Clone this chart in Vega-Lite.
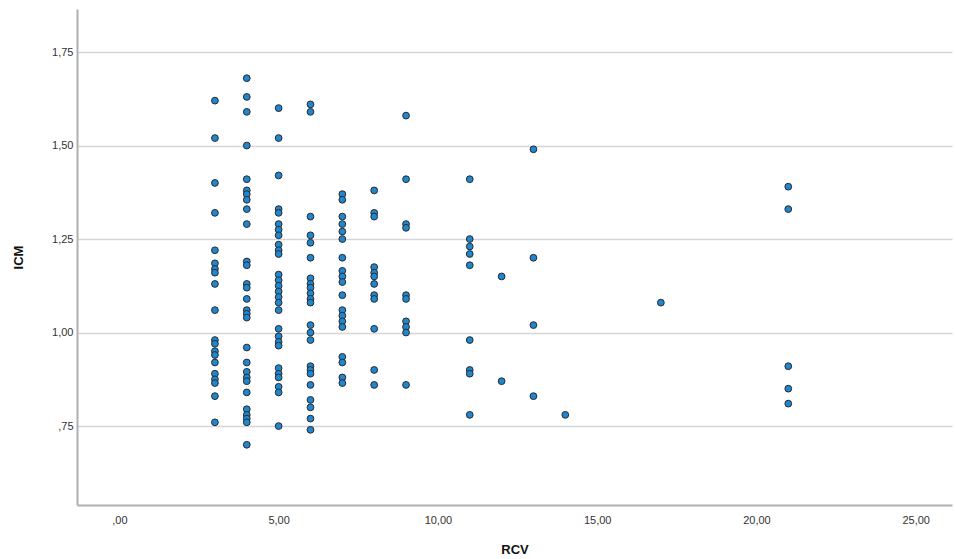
{
  "$schema": "https://vega.github.io/schema/vega-lite/v6.json",
  "width": 875,
  "height": 496,
  "autosize": {"type": "none"},
  "padding": {"left": 77, "top": 9, "right": 3, "bottom": 54},
  "background": "white",
  "config": {
    "view": {"stroke": null},
    "font": "Liberation Sans"
  },
  "data": {
    "values": [
      {"RCV": 3, "ICM": 1.62}, {"RCV": 3, "ICM": 1.52}, {"RCV": 3, "ICM": 1.40}, {"RCV": 3, "ICM": 1.32},
      {"RCV": 3, "ICM": 1.22}, {"RCV": 3, "ICM": 1.185}, {"RCV": 3, "ICM": 1.17}, {"RCV": 3, "ICM": 1.16},
      {"RCV": 3, "ICM": 1.13}, {"RCV": 3, "ICM": 1.06}, {"RCV": 3, "ICM": 0.98}, {"RCV": 3, "ICM": 0.97},
      {"RCV": 3, "ICM": 0.95}, {"RCV": 3, "ICM": 0.94}, {"RCV": 3, "ICM": 0.92}, {"RCV": 3, "ICM": 0.89},
      {"RCV": 3, "ICM": 0.875}, {"RCV": 3, "ICM": 0.865}, {"RCV": 3, "ICM": 0.83}, {"RCV": 3, "ICM": 0.76},
      {"RCV": 4, "ICM": 1.68}, {"RCV": 4, "ICM": 1.63}, {"RCV": 4, "ICM": 1.59}, {"RCV": 4, "ICM": 1.50},
      {"RCV": 4, "ICM": 1.41}, {"RCV": 4, "ICM": 1.38}, {"RCV": 4, "ICM": 1.37}, {"RCV": 4, "ICM": 1.355},
      {"RCV": 4, "ICM": 1.33}, {"RCV": 4, "ICM": 1.29}, {"RCV": 4, "ICM": 1.19}, {"RCV": 4, "ICM": 1.18},
      {"RCV": 4, "ICM": 1.13}, {"RCV": 4, "ICM": 1.12}, {"RCV": 4, "ICM": 1.09}, {"RCV": 4, "ICM": 1.06},
      {"RCV": 4, "ICM": 1.05}, {"RCV": 4, "ICM": 1.04}, {"RCV": 4, "ICM": 0.96}, {"RCV": 4, "ICM": 0.92},
      {"RCV": 4, "ICM": 0.895}, {"RCV": 4, "ICM": 0.88}, {"RCV": 4, "ICM": 0.87}, {"RCV": 4, "ICM": 0.84},
      {"RCV": 4, "ICM": 0.795}, {"RCV": 4, "ICM": 0.78}, {"RCV": 4, "ICM": 0.77}, {"RCV": 4, "ICM": 0.76},
      {"RCV": 4, "ICM": 0.70},
      {"RCV": 5, "ICM": 1.60}, {"RCV": 5, "ICM": 1.52}, {"RCV": 5, "ICM": 1.42}, {"RCV": 5, "ICM": 1.33},
      {"RCV": 5, "ICM": 1.32}, {"RCV": 5, "ICM": 1.29}, {"RCV": 5, "ICM": 1.275}, {"RCV": 5, "ICM": 1.26},
      {"RCV": 5, "ICM": 1.235}, {"RCV": 5, "ICM": 1.22}, {"RCV": 5, "ICM": 1.21}, {"RCV": 5, "ICM": 1.155},
      {"RCV": 5, "ICM": 1.14}, {"RCV": 5, "ICM": 1.125}, {"RCV": 5, "ICM": 1.11}, {"RCV": 5, "ICM": 1.095},
      {"RCV": 5, "ICM": 1.08}, {"RCV": 5, "ICM": 1.06}, {"RCV": 5, "ICM": 1.01}, {"RCV": 5, "ICM": 0.99},
      {"RCV": 5, "ICM": 0.975}, {"RCV": 5, "ICM": 0.965}, {"RCV": 5, "ICM": 0.905}, {"RCV": 5, "ICM": 0.89},
      {"RCV": 5, "ICM": 0.88}, {"RCV": 5, "ICM": 0.855}, {"RCV": 5, "ICM": 0.84}, {"RCV": 5, "ICM": 0.75},
      {"RCV": 6, "ICM": 1.61}, {"RCV": 6, "ICM": 1.59}, {"RCV": 6, "ICM": 1.31}, {"RCV": 6, "ICM": 1.26},
      {"RCV": 6, "ICM": 1.24}, {"RCV": 6, "ICM": 1.20}, {"RCV": 6, "ICM": 1.145}, {"RCV": 6, "ICM": 1.13},
      {"RCV": 6, "ICM": 1.12}, {"RCV": 6, "ICM": 1.105}, {"RCV": 6, "ICM": 1.09}, {"RCV": 6, "ICM": 1.08},
      {"RCV": 6, "ICM": 1.02}, {"RCV": 6, "ICM": 1.00}, {"RCV": 6, "ICM": 0.98}, {"RCV": 6, "ICM": 0.91},
      {"RCV": 6, "ICM": 0.90}, {"RCV": 6, "ICM": 0.89}, {"RCV": 6, "ICM": 0.86}, {"RCV": 6, "ICM": 0.82},
      {"RCV": 6, "ICM": 0.80}, {"RCV": 6, "ICM": 0.77}, {"RCV": 6, "ICM": 0.74},
      {"RCV": 7, "ICM": 1.37}, {"RCV": 7, "ICM": 1.355}, {"RCV": 7, "ICM": 1.31}, {"RCV": 7, "ICM": 1.29},
      {"RCV": 7, "ICM": 1.27}, {"RCV": 7, "ICM": 1.25}, {"RCV": 7, "ICM": 1.20}, {"RCV": 7, "ICM": 1.165},
      {"RCV": 7, "ICM": 1.15}, {"RCV": 7, "ICM": 1.135}, {"RCV": 7, "ICM": 1.10}, {"RCV": 7, "ICM": 1.06},
      {"RCV": 7, "ICM": 1.045}, {"RCV": 7, "ICM": 1.03}, {"RCV": 7, "ICM": 1.015}, {"RCV": 7, "ICM": 0.935},
      {"RCV": 7, "ICM": 0.92}, {"RCV": 7, "ICM": 0.88}, {"RCV": 7, "ICM": 0.865},
      {"RCV": 8, "ICM": 1.38}, {"RCV": 8, "ICM": 1.32}, {"RCV": 8, "ICM": 1.31}, {"RCV": 8, "ICM": 1.175},
      {"RCV": 8, "ICM": 1.16}, {"RCV": 8, "ICM": 1.15}, {"RCV": 8, "ICM": 1.13}, {"RCV": 8, "ICM": 1.10},
      {"RCV": 8, "ICM": 1.09}, {"RCV": 8, "ICM": 1.01}, {"RCV": 8, "ICM": 0.90}, {"RCV": 8, "ICM": 0.86},
      {"RCV": 9, "ICM": 1.58}, {"RCV": 9, "ICM": 1.41}, {"RCV": 9, "ICM": 1.29}, {"RCV": 9, "ICM": 1.28},
      {"RCV": 9, "ICM": 1.10}, {"RCV": 9, "ICM": 1.09}, {"RCV": 9, "ICM": 1.03}, {"RCV": 9, "ICM": 1.015},
      {"RCV": 9, "ICM": 1.00}, {"RCV": 9, "ICM": 0.86},
      {"RCV": 11, "ICM": 1.41}, {"RCV": 11, "ICM": 1.25}, {"RCV": 11, "ICM": 1.23}, {"RCV": 11, "ICM": 1.21},
      {"RCV": 11, "ICM": 1.18}, {"RCV": 11, "ICM": 0.98}, {"RCV": 11, "ICM": 0.90}, {"RCV": 11, "ICM": 0.89},
      {"RCV": 11, "ICM": 0.78},
      {"RCV": 12, "ICM": 1.15}, {"RCV": 12, "ICM": 0.87},
      {"RCV": 13, "ICM": 1.49}, {"RCV": 13, "ICM": 1.20}, {"RCV": 13, "ICM": 1.02}, {"RCV": 13, "ICM": 0.83},
      {"RCV": 14, "ICM": 0.78},
      {"RCV": 17, "ICM": 1.08},
      {"RCV": 21, "ICM": 1.39}, {"RCV": 21, "ICM": 1.33}, {"RCV": 21, "ICM": 0.91}, {"RCV": 21, "ICM": 0.85},
      {"RCV": 21, "ICM": 0.81}
    ]
  },
  "mark": {
    "type": "point",
    "shape": "circle",
    "filled": true,
    "size": 46,
    "fill": "#1f86d0",
    "stroke": "#2a2a2a",
    "strokeWidth": 1,
    "opacity": 1
  },
  "encoding": {
    "x": {
      "field": "RCV",
      "type": "quantitative",
      "scale": {"domain": [-1.33, 26.14], "nice": false, "zero": false},
      "axis": {
        "title": "RCV",
        "values": [0, 5, 10, 15, 20, 25],
        "labelExpr": "datum.value < 1 ? replace(format(datum.value, '.2f'), '0.', ',') : replace(format(datum.value, '.2f'), '.', ',')",
        "grid": false,
        "ticks": false,
        "domain": true,
        "domainColor": "#b0b0b0",
        "domainWidth": 2,
        "labelFontSize": 11,
        "labelColor": "#333333",
        "labelPadding": 9,
        "titleFontSize": 13,
        "titleFontWeight": "bold",
        "titleColor": "#111111",
        "titlePadding": 18
      }
    },
    "y": {
      "field": "ICM",
      "type": "quantitative",
      "scale": {"domain": [0.539, 1.865], "nice": false, "zero": false},
      "axis": {
        "title": "ICM",
        "values": [0.75, 1.0, 1.25, 1.5, 1.75],
        "labelExpr": "datum.value < 1 ? replace(format(datum.value, '.2f'), '0.', ',') : replace(format(datum.value, '.2f'), '.', ',')",
        "grid": true,
        "gridColor": "#d6d6d6",
        "gridWidth": 1.5,
        "ticks": false,
        "domain": true,
        "domainColor": "#b0b0b0",
        "domainWidth": 2,
        "labelFontSize": 11,
        "labelColor": "#333333",
        "labelPadding": 4,
        "titleFontSize": 13,
        "titleFontWeight": "bold",
        "titleColor": "#111111",
        "titlePadding": 26
      }
    }
  }
}
